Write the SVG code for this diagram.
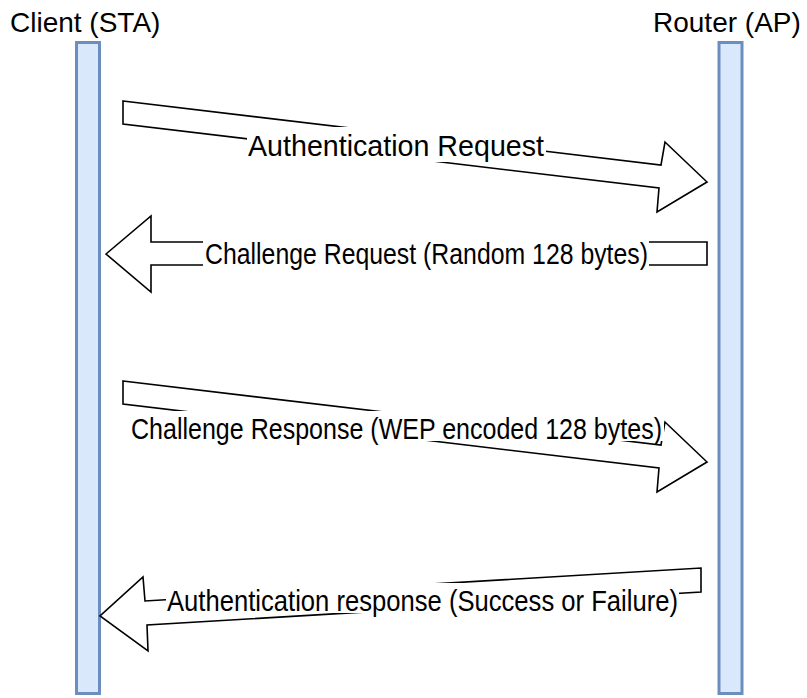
<svg xmlns="http://www.w3.org/2000/svg" width="807" height="698" viewBox="0 0 807 698">
<style>
.t{font-family:"Liberation Sans",Arial,sans-serif;font-size:30px;fill:#000}
.h{font-family:"Liberation Sans",Arial,sans-serif;font-size:28px;fill:#000}
.life{fill:#dae8fc;stroke:#6c8ebf;stroke-width:3}
.arr{fill:#fff;stroke:#000;stroke-width:1.6;stroke-linejoin:miter}
.bg{fill:#fff}
</style>
<rect width="807" height="698" fill="#fff"/>
<g id="client">
<rect class="life" x="76.5" y="42.5" width="23" height="651"/>
<text class="h" x="10" y="32">Client (STA)</text>
</g>
<g id="router">
<rect class="life" x="719" y="42.5" width="23" height="651"/>
<text class="h" x="653" y="32">Router (AP)</text>
</g>
<g id="connectors">
<g id="msg1">
<polygon class="arr" points="123,101 661,165 665,142 707,182 657,212 659,188 123,124"/>
<rect class="bg" x="247" y="127" width="299" height="35"/>
<text class="t" x="248" y="156" textLength="296" lengthAdjust="spacingAndGlyphs">Authentication Request</text>
</g>
<g id="msg2">
<polygon class="arr" points="106,254 151,216 151,242 707,242 707,265 151,265 151,292"/>
<rect class="bg" x="203" y="238" width="446" height="31"/>
<text class="t" x="205" y="264" textLength="443" lengthAdjust="spacingAndGlyphs">Challenge Request (Random 128 bytes)</text>
</g>
<g id="msg3">
<polygon class="arr" points="123,381 661,445 665,422 707,462 657,492 659,468 123,404"/>
<rect class="bg" x="129" y="411" width="535" height="30"/>
<text class="t" x="131" y="439" textLength="531" lengthAdjust="spacingAndGlyphs">Challenge Response (WEP encoded 128 bytes)</text>
</g>
<g id="msg4">
<polygon class="arr" points="701,568 701,592 147,625 148,651 100,616 143,577 145,601"/>
<rect class="bg" x="166" y="583" width="513" height="30"/>
<text class="t" x="167" y="611" textLength="511" lengthAdjust="spacingAndGlyphs">Authentication response (Success or Failure)</text>
</g>
</g>
</svg>
